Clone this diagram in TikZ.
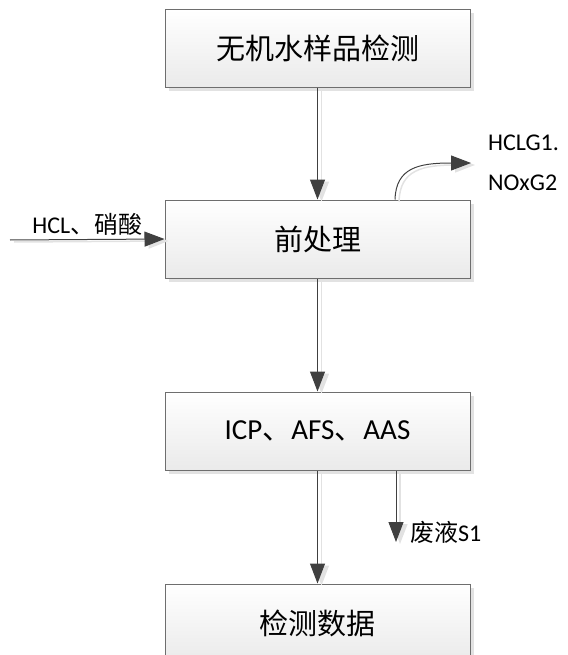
\documentclass[tikz,border=0pt]{standalone}
\usepackage{fontspec}
\setmainfont{Carlito}
\newfontfamily\cjk{Noto Sans CJK SC}
\usetikzlibrary{arrows.meta, positioning, calc, shadows}
\definecolor{boxedge}{RGB}{110,110,110}
\definecolor{arrowgray}{RGB}{64,64,64}
\definecolor{boxbottom}{RGB}{234,234,234}
\definecolor{shadowgray}{RGB}{226,226,226}

\begin{document}
\begin{tikzpicture}[x=1pt,y=-1pt,
	procbox/.style={draw=boxedge, line width=1pt, top color=white, bottom color=boxbottom,
		minimum width=305pt, minimum height=78pt, inner sep=0pt, font=\fontsize{29}{34}\selectfont,
		drop shadow={shadow xshift=4pt, shadow yshift=-4pt, fill=shadowgray, opacity=1}},
	flowarrow/.style={draw=arrowgray, line width=1pt, -{Triangle[length=20pt,width=15pt]},
		preaction={draw=shadowgray, line width=1.5pt, transform canvas={xshift=4pt,yshift=-2pt}}},
	sidetext/.style={font=\fontsize{24}{40}\selectfont, inner sep=2pt}
]
	\useasboundingbox (0,0) rectangle (567,655);
	\node[procbox] (sample) at (317.5,48.5) {\cjk 无机水样品检测};
	\node[procbox] (pretreat) at (317.5,239) {\cjk 前处理};
	\node[procbox] (instr) at (317.5,431) {ICP{\cjk 、}AFS{\cjk 、}AAS};
	\node[procbox] (data) at (317.5,623) {\cjk 检测数据};
	\coordinate (acid) at (10,240);
	\coordinate (gasout) at (471,163);
	\coordinate (waste) at (396,542);
	\draw[flowarrow] (sample) -- (pretreat);
	\draw[flowarrow] (pretreat) -- (instr);
	\draw[flowarrow] (instr) -- (data);
	\draw[flowarrow] (acid) -- node[above, sidetext, yshift=2pt] (acidtext) {HCL{\cjk 、硝酸}} (pretreat.west);
	\draw[flowarrow] ([xshift=77.5pt]pretreat.north) .. controls (396,168) and (418,163) .. (gasout);
	\draw[flowarrow] ([xshift=78.5pt]instr.south) -- (waste);
	\node[sidetext, anchor=west, align=left] (gas) at (486,163) {HCLG1.\\NOxG2};
	\node[sidetext, anchor=west] (s1) at (408,532) {{\cjk 废液}S1};
\end{tikzpicture}
\end{document}
